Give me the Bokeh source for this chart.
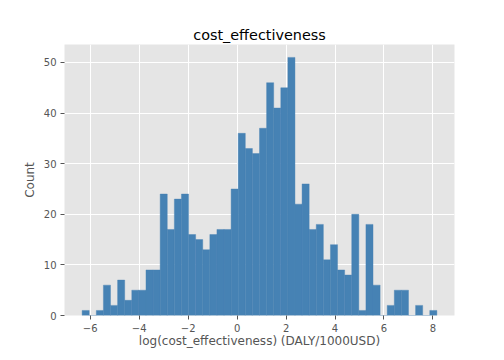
import numpy as np
from bokeh.plotting import figure
from bokeh.models import Range1d, FixedTicker
from bokeh.embed import file_html
from bokeh.resources import INLINE

# data: histogram counts (50 bins) of log(cost_effectiveness)
counts = [1, 0, 1, 6, 2, 7, 3, 5, 5, 9,
          9, 24, 17, 23, 24, 16, 15, 13, 16, 17,
          17, 25, 36, 33, 32, 37, 46, 41, 45, 51,
          22, 26, 17, 18, 11, 14, 9, 8, 20, 1,
          18, 6, 0, 2, 5, 5, 0, 2, 0, 1]
data_min = -6.33
data_max = 8.16
x_ticks = [-6, -4, -2, 0, 2, 4, 6, 8]
y_ticks = [0, 10, 20, 30, 40, 50]

edges = np.linspace(data_min, data_max, len(counts) + 1)

FONT = "DejaVu Sans"
GRAY = "#555555"
BAR = "#4682B4"

p = figure(width=496, height=359, output_backend="svg", toolbar_location=None,
           title="cost_effectiveness",
           x_range=Range1d(-7.05, 8.88), y_range=Range1d(0, 53.55),
           min_border_left=64, min_border_right=42, min_border_top=44, min_border_bottom=44)

p.quad(left=edges[:-1], right=edges[1:], bottom=0, top=counts,
       fill_color=BAR, line_color=BAR, line_width=0.4)

p.background_fill_color = "#E5E5E5"
p.border_fill_color = "white"
p.outline_line_color = None

p.title.align = "center"
p.title.text_font = FONT
p.title.text_font_size = "14.4px"
p.title.text_font_style = "normal"
p.title.text_color = "black"
p.title.standoff = 3

for ax in (p.xaxis[0], p.yaxis[0]):
    ax.axis_line_color = None
    ax.major_tick_line_color = GRAY
    ax.major_tick_out = 4
    ax.major_tick_in = 0
    ax.minor_tick_line_color = None
    ax.major_label_text_font = FONT
    ax.major_label_text_font_size = "10px"
    ax.major_label_text_color = GRAY
    ax.major_label_standoff = 4
    ax.axis_label_text_font = FONT
    ax.axis_label_text_font_size = "12px"
    ax.axis_label_text_color = GRAY
    ax.axis_label_text_font_style = "normal"

p.xaxis.axis_label = "log(cost_effectiveness) (DALY/1000USD)"
p.yaxis.axis_label = "Count"
p.xaxis.axis_label_standoff = -1
p.yaxis.axis_label_standoff = 4
p.xaxis.ticker = FixedTicker(ticks=x_ticks)
p.yaxis.ticker = FixedTicker(ticks=y_ticks)
p.xaxis.major_label_overrides = {t: str(t).replace("-", "\u2212") for t in x_ticks}

p.xgrid.ticker = FixedTicker(ticks=x_ticks)
p.ygrid.ticker = FixedTicker(ticks=y_ticks)
p.grid.grid_line_color = "white"
p.grid.grid_line_width = 1
p.grid.level = "underlay"

open("out.html", "w").write(file_html(p, INLINE))
